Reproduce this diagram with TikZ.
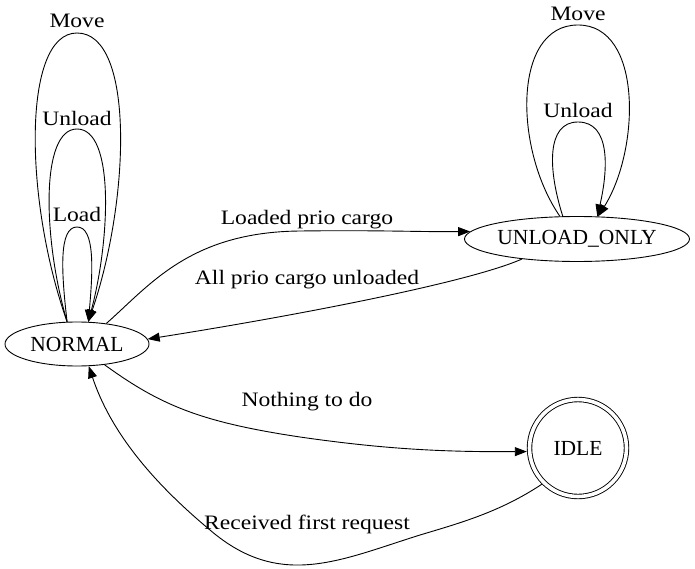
\documentclass[tikz,border=0pt]{standalone}
\usepackage{fontspec}
\setmainfont{Liberation Serif}
\newfontfamily\lblfont{Liberation Serif}[FakeStretch=1.15]
\usetikzlibrary{arrows.meta,shapes.geometric}
\begin{document}
\begin{tikzpicture}[x=1pt,y=-1pt,line width=0.9pt,
  st/.style={draw, ellipse, inner sep=0pt, font=\fontsize{21.5}{24}\selectfont},
  lbl/.style={inner sep=0pt, font=\lblfont\fontsize{20.5}{24}\selectfont},
  arr/.style={-{Triangle[length=12pt,width=9pt]}}]
\useasboundingbox (0,0) rectangle (695,569);
\node[st, minimum width=144pt, minimum height=44pt] (normal) at (77,344) {NORMAL};
\node[st, minimum width=225pt, minimum height=45pt] (unl) at (577,239) {UNLOAD\_ONLY};
\node[draw, circle, double, double distance=3.6pt, minimum size=97pt, inner sep=0pt, outer sep=2.8pt, font=\fontsize{21.5}{24}\selectfont] (idle) at (578,448) {IDLE};
% self loops NORMAL
\draw[arr] (normal.114) .. controls (61,270) and (59,227) .. (77,227) .. controls (95,227) and (93,270) .. (normal.63);
\draw[arr] (normal.114) .. controls (43,240) and (40,129) .. (77,129) .. controls (115,129) and (110,240) .. (normal.63);
\draw[arr] (normal.114) .. controls (24,200) and (22,33) .. (77,33) .. controls (135,33) and (130,200) .. (normal.63);
% self loops UNLOAD_ONLY
\draw[arr] (unl.122) .. controls (548,170) and (546,122) .. (578,122) .. controls (611,122) and (608,170) .. (unl.48);
\draw[arr] (unl.127) .. controls (514,150) and (512,25) .. (578,25) .. controls (643,25) and (640,150) .. (unl.47);
% edges
\draw[arr] (normal.35) .. controls (150,285) and (190,232) .. (300,231) .. controls (380,230) and (420,232) .. (unl.176);
\draw[arr] (unl.200) .. controls (470,282) and (300,315) .. (normal.4);
\draw[arr] (normal.-37) .. controls (160,405) and (200,422) .. (300,437) .. controls (390,450) and (450,452) .. (idle.184);
\draw[arr] (idle.225) .. controls (500,512) and (460,523) .. (420,535) .. controls (340,560) and (280,590) .. (210,530) .. controls (150,480) and (110,430) .. (normal.-62);
% labels
\node[lbl] (lm1) at (77,21) {Move};
\node[lbl] (lu1) at (77,118) {Unload};
\node[lbl] (ll1) at (77,214) {Load};
\node[lbl] (lm2) at (578,14) {Move};
\node[lbl] (lu2) at (578,110) {Unload};
\node[lbl] (le1) at (307,220) {Loaded prio cargo};
\node[lbl] (le2) at (307,280) {All prio cargo unloaded};
\node[lbl] (le3) at (307,402) {Nothing to do};
\node[lbl] (le4) at (307,524) {Received first request};
\end{tikzpicture}
\end{document}
